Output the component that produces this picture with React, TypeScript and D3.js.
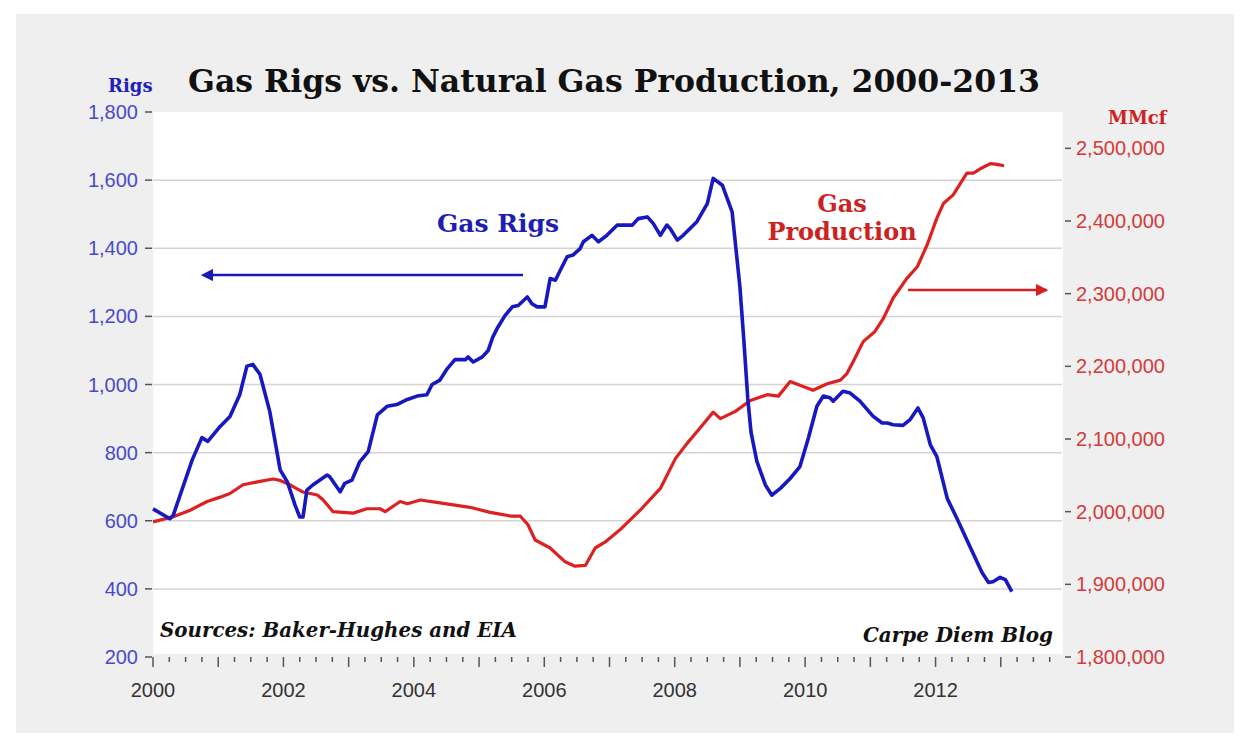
import React from 'react';
import * as d3 from 'd3';

// Gas rigs (Baker-Hughes)
const rigYears = [
  2000.0, 2000.26, 2000.31, 2000.6, 2000.75, 2000.84, 2001.03, 2001.18, 2001.33, 2001.44,
  2001.53, 2001.64, 2001.79, 2001.9, 2001.95, 2002.06, 2002.18, 2002.25, 2002.3, 2002.36,
  2002.45, 2002.67, 2002.71, 2002.87, 2002.94, 2003.05, 2003.17, 2003.3, 2003.44, 2003.59,
  2003.74, 2003.9, 2004.05, 2004.2, 2004.28, 2004.4, 2004.51, 2004.63, 2004.79, 2004.83,
  2004.91, 2005.05, 2005.14, 2005.21, 2005.29, 2005.4, 2005.51, 2005.6, 2005.74, 2005.81,
  2005.89, 2006.01, 2006.09, 2006.17, 2006.27, 2006.35, 2006.44, 2006.55, 2006.6, 2006.73,
  2006.83, 2006.96, 2007.12, 2007.24, 2007.35, 2007.44, 2007.58, 2007.67, 2007.78, 2007.88,
  2007.93, 2008.04, 2008.13, 2008.34, 2008.5, 2008.59, 2008.73, 2008.88, 2009.0, 2009.06,
  2009.12, 2009.17, 2009.26, 2009.39, 2009.49, 2009.62, 2009.77, 2009.92, 2010.05, 2010.18,
  2010.28, 2010.38, 2010.43, 2010.58, 2010.69, 2010.84, 2011.04, 2011.18, 2011.26, 2011.35,
  2011.5, 2011.61, 2011.73, 2011.81, 2011.92, 2012.02, 2012.18, 2012.33, 2012.53, 2012.71,
  2012.81, 2012.88, 2012.99, 2013.07, 2013.17,
];
const rigCounts = [
  635, 606, 616, 778, 844, 833, 877, 906, 970, 1054,
  1059, 1030, 921, 803, 749, 714, 645, 611, 611, 690,
  705, 734, 729, 685, 710, 719, 773, 803, 911, 936,
  941, 956, 966, 970, 1000, 1013, 1046, 1073, 1073, 1081,
  1066, 1081, 1100, 1139, 1169, 1203, 1228, 1232, 1257, 1237,
  1228, 1228, 1311, 1306, 1345, 1375, 1380, 1399, 1419, 1438,
  1419, 1438, 1468, 1468, 1468, 1487, 1492, 1473, 1438, 1468,
  1458, 1424, 1438, 1478, 1531, 1605, 1585, 1507, 1286, 1130,
  960, 860, 774, 705, 675, 695, 724, 759, 843, 936,
  966, 961, 951, 980, 975, 951, 907, 887, 887, 882,
  880, 897, 931, 902, 823, 788, 665, 606, 523, 449,
  419, 421, 434, 427, 392,
];

// Natural gas production (EIA, MMcf)
const prodYears = [
  2000.0, 2000.31, 2000.57, 2000.83, 2001.03, 2001.18, 2001.38, 2001.6, 2001.84, 2001.95,
  2002.1, 2002.3, 2002.52, 2002.61, 2002.76, 2003.07, 2003.28, 2003.48, 2003.56, 2003.79,
  2003.9, 2004.1, 2004.4, 2004.86, 2005.17, 2005.48, 2005.63, 2005.75, 2005.86, 2006.09,
  2006.32, 2006.47, 2006.63, 2006.78, 2006.93, 2007.16, 2007.47, 2007.78, 2008.01, 2008.19,
  2008.34, 2008.59, 2008.7, 2008.93, 2009.16, 2009.42, 2009.59, 2009.77, 2009.92, 2010.12,
  2010.34, 2010.54, 2010.64, 2010.74, 2010.89, 2011.07, 2011.2, 2011.35, 2011.56, 2011.72,
  2011.87, 2012.02, 2012.12, 2012.27, 2012.48, 2012.58, 2012.71, 2012.84, 2012.94, 2013.05,
];
const prodValues = [
  1986000, 1993000, 2002000, 2014000, 2020000, 2025000, 2037000, 2041000, 2045000, 2043000,
  2037000, 2027000, 2023000, 2016000, 2000000, 1998000, 2004000, 2004000, 2000000, 2014000,
  2011000, 2016000, 2012000, 2006000, 1999000, 1994000, 1994000, 1982000, 1961000, 1950000,
  1931000, 1925000, 1926000, 1950000, 1958000, 1975000, 2002000, 2032000, 2073000, 2094000,
  2110000, 2137000, 2128000, 2138000, 2153000, 2161000, 2159000, 2179000, 2174000, 2167000,
  2176000, 2181000, 2190000, 2207000, 2234000, 2248000, 2266000, 2294000, 2321000, 2337000,
  2367000, 2404000, 2424000, 2436000, 2466000, 2466000, 2473000, 2479000, 2478000, 2476000,
];

const leftTicks = [200, 400, 600, 800, 1000, 1200, 1400, 1600, 1800];
const gridTicks = [400, 600, 800, 1000, 1200, 1400, 1600];
const rightTicks = [1800000, 1900000, 2000000, 2100000, 2200000, 2300000, 2400000, 2500000];
const yearLabels = [2000, 2002, 2004, 2006, 2008, 2010, 2012];
const quarterTicks = d3.range(0, 56).map((i) => 2000 + i / 4);

const W = 1250;
const H = 749;
const plotL = 153;
const plotR = 1063;
const plotT = 112;
const plotB = 657;

export default function App() {
  const x = d3.scaleLinear().domain([2000, 2014]).range([plotL, 1066]);
  const yL = d3.scaleLinear().domain([200, 1800]).range([plotB, plotT]);
  const yR = d3.scaleLinear().domain([1800000, 2550000]).range([plotB, plotT]);

  const rigLine = d3
    .line<number>()
    .x((_, i) => x(rigYears[i]))
    .y((d) => yL(d));
  const prodLine = d3
    .line<number>()
    .x((_, i) => x(prodYears[i]))
    .y((d) => yR(d));

  const fmt = d3.format(',');

  const sans = '"Liberation Sans", Arial, sans-serif';
  const serif = '"DejaVu Serif", Georgia, serif';
  const blueText = '#4a4ac8';
  const redText = '#d43a3a';

  return (
    <svg
      width={W}
      height={H}
      style={{ position: 'absolute', left: 0, top: 0, display: 'block' }}
    >
      <defs>
        <marker id="arrowL" viewBox="0 0 10 10" refX="1" refY="5" markerWidth="5" markerHeight="5" orient="auto-start-reverse">
          <path d="M0,0 L10,5 L0,10 z" fill="#1a1ab4" />
        </marker>
        <marker id="arrowR" viewBox="0 0 10 10" refX="9" refY="5" markerWidth="5" markerHeight="5" orient="auto">
          <path d="M0,0 L10,5 L0,10 z" fill="#d42020" />
        </marker>
      </defs>
      <rect x={0} y={0} width={W} height={H} fill="#ffffff" />
      <rect x={16} y={14} width={W - 32} height={H - 30} fill="#efefef" />
      <rect x={plotL} y={plotT} width={plotR - plotL} height={plotB - plotT - 3} fill="#ffffff" />

      {/* gridlines */}
      {gridTicks.map((t) => (
        <line key={t} x1={plotL} x2={plotR - 1} y1={yL(t)} y2={yL(t)} stroke="#d4d4d4" strokeWidth={1.5} />
      ))}

      {/* title */}
      <text x={188} y={92} fontFamily={serif} fontWeight="bold" fontSize={31} fill="#111" textLength={852} lengthAdjust="spacingAndGlyphs">
        Gas Rigs vs. Natural Gas Production, 2000-2013
      </text>
      <text x={108} y={92} fontFamily={serif} fontWeight="bold" fontSize={18} fill="#2222bb">
        Rigs
      </text>
      <text x={1108} y={124} fontFamily={serif} fontWeight="bold" fontSize={18} fill="#cc2222">
        MMcf
      </text>

      {/* left axis */}
      {leftTicks.map((t) => (
        <g key={t}>
          <line x1={145} x2={152} y1={yL(t)} y2={yL(t)} stroke="#555" strokeWidth={1.5} />
          <text x={138} y={yL(t)} dy="0.35em" textAnchor="end" fontFamily={sans} fontSize={20} fill={blueText}>
            {fmt(t)}
          </text>
        </g>
      ))}

      {/* right axis */}
      {rightTicks.map((t) => (
        <g key={t}>
          <line x1={1065} x2={1071} y1={yR(t)} y2={yR(t)} stroke="#555" strokeWidth={1.5} />
          <text x={1076} y={yR(t)} dy="0.35em" textAnchor="start" fontFamily={sans} fontSize={20} fill={redText}>
            {fmt(t)}
          </text>
        </g>
      ))}

      {/* x axis ticks */}
      {quarterTicks.map((q, i) => (
        <line
          key={i}
          x1={x(q)}
          x2={x(q)}
          y1={plotB}
          y2={plotB + (i % 4 === 0 ? 10 : 5)}
          stroke="#555"
          strokeWidth={1.5}
        />
      ))}
      {yearLabels.map((yv) => (
        <text key={yv} x={x(yv)} y={697} textAnchor="middle" fontFamily={sans} fontSize={20} fill="#333">
          {yv}
        </text>
      ))}

      {/* series */}
      <path d={prodLine(prodValues) || ''} fill="none" stroke="#dd2020" strokeWidth={3.2} strokeLinejoin="round" />
      <path d={rigLine(rigCounts) || ''} fill="none" stroke="#1818c0" strokeWidth={3.6} strokeLinejoin="round" />

      {/* annotations */}
      <text x={437} y={232} fontFamily={serif} fontWeight="bold" fontSize={25} fill="#1e1eb0">
        Gas Rigs
      </text>
      <line x1={523} x2={212} y1={275} y2={275} stroke="#1a1ab4" strokeWidth={2.5} markerEnd="url(#arrowL)" />

      <text x={842} y={212} textAnchor="middle" fontFamily={serif} fontWeight="bold" fontSize={24} fill="#cc2222">
        Gas
      </text>
      <text x={842} y={240} textAnchor="middle" fontFamily={serif} fontWeight="bold" fontSize={24} fill="#cc2222">
        Production
      </text>
      <line x1={908} x2={1047} y1={290} y2={290} stroke="#d42020" strokeWidth={2.5} markerEnd="url(#arrowR)" />

      <text x={160} y={637} fontFamily={serif} fontWeight="bold" fontStyle="italic" fontSize={20} fill="#111" textLength={357} lengthAdjust="spacingAndGlyphs">
        Sources: Baker-Hughes and EIA
      </text>
      <text x={863} y={642} fontFamily={serif} fontWeight="bold" fontStyle="italic" fontSize={20} fill="#111" textLength={190} lengthAdjust="spacingAndGlyphs">
        Carpe Diem Blog
      </text>
    </svg>
  );
}
